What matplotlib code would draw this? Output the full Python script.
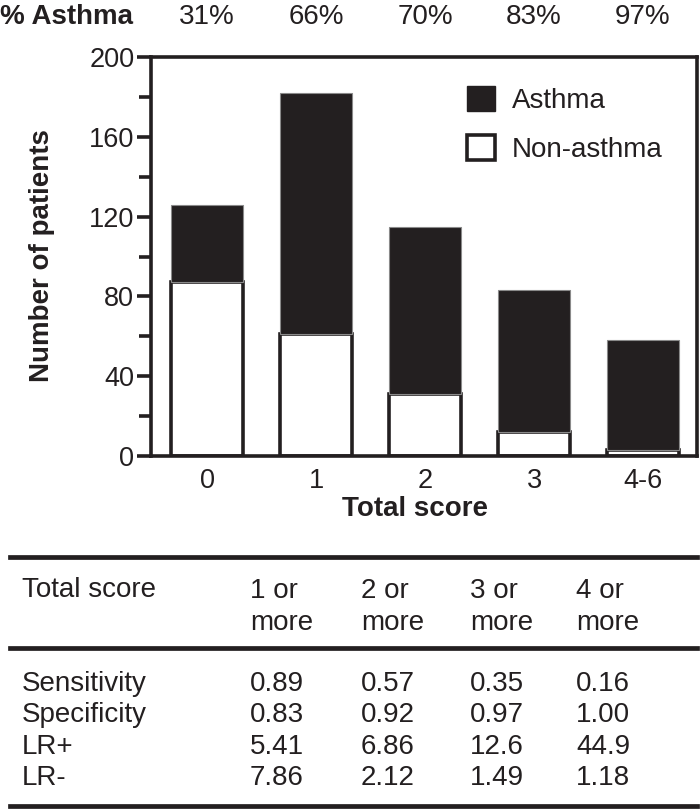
import matplotlib
matplotlib.use('Agg')
import matplotlib.pyplot as plt
import matplotlib.transforms as mtransforms
from matplotlib.patches import Patch
from matplotlib.lines import Line2D

plt.rcParams['font.family'] = ['Liberation Sans', 'DejaVu Sans']

# данные
scores = ['0', '1', '2', '3', '4-6']
non_asthma = [87, 61, 31, 12, 3]
asthma = [39, 121, 84, 71, 55]
pct_asthma = ['31%', '66%', '70%', '83%', '97%']

tbl_header = ['1 or\nmore', '2 or\nmore', '3 or\nmore', '4 or\nmore']
tbl_rows = ['Sensitivity', 'Specificity', 'LR+', 'LR-']
tbl_values = [
    ['0.89', '0.57', '0.35', '0.16'],
    ['0.83', '0.92', '0.97', '1.00'],
    ['5.41', '6.86', '12.6', '44.9'],
    ['7.86', '2.12', '1.49', '1.18'],
]

DARK = '#231f20'
W, H = 700, 811


def fx(x):
    return x / W


def fy(y):
    return 1 - y / H


fig = plt.figure(figsize=(7, 8.11), dpi=100)
ax = fig.add_axes([fx(151), fy(456), fx(697) - fx(151), fy(57) - fy(456)])

pos = list(range(len(scores)))
ax.bar(pos, non_asthma, width=0.66, color='white', edgecolor=DARK, linewidth=2.6, zorder=2)
ax.bar(pos, asthma, width=0.66, bottom=non_asthma, color=DARK, edgecolor='#8a8a8a',
       linewidth=0.8, zorder=2)

ax.set_xlim(-0.514, 4.495)
ax.set_ylim(0, 200)
ax.set_xticks(pos)
ax.set_xticklabels(scores, fontsize=19.5, color=DARK)
ax.tick_params(axis='x', length=0, pad=9)
ax.set_yticks(range(0, 201, 40))
ax.set_yticks(range(20, 200, 40), minor=True)
ax.tick_params(axis='y', which='major', length=10, width=2.6, color=DARK,
               labelsize=19.5, labelcolor=DARK, pad=2)
ax.tick_params(axis='y', which='minor', length=9, width=2.6, color=DARK)
for s in ax.spines.values():
    s.set_linewidth(2.6)
    s.set_color(DARK)

fig.text(fx(415), fy(509), 'Total score', fontsize=20, fontweight='bold',
         ha='center', va='center', color=DARK)
fig.text(fx(42), fy(256), 'Number of patients', fontsize=20, fontweight='bold',
         rotation=90, ha='center', va='center', color=DARK)

handles = [Patch(facecolor=DARK, edgecolor=DARK, linewidth=1),
           Patch(facecolor='white', edgecolor=DARK, linewidth=2.6)]
leg = ax.legend(handles, ['Asthma', 'Non-asthma'], loc='upper left',
                bbox_to_anchor=(fx(467), fy(86)), bbox_transform=fig.transFigure,
                frameon=False, fontsize=20, handlelength=1.0, handleheight=1.0,
                handletextpad=0.6, labelspacing=0.75, borderpad=0, borderaxespad=0)
for t in leg.get_texts():
    t.set_color(DARK)

# верхняя строка с процентами
trans = mtransforms.blended_transform_factory(ax.transData, fig.transFigure)
fig.text(0.0, fy(17), '% Asthma', fontsize=20, fontweight='bold',
         ha='left', va='center', color=DARK)
for p, t in zip(pos, pct_asthma):
    ax.text(p, fy(17), t, transform=trans, fontsize=20, ha='center', va='center',
            color=DARK)

# таблица
for yl in [557, 648, 806]:
    fig.add_artist(Line2D([fx(10), fx(697)], [fy(yl), fy(yl)], transform=fig.transFigure,
                          color=DARK, linewidth=3.4))

col_x = [250, 361, 470, 576]
fig.text(fx(22), fy(590), 'Total score', fontsize=20, ha='left', va='center', color=DARK)
for cx, h in zip(col_x, tbl_header):
    fig.text(fx(cx), fy(607), h, fontsize=20, ha='left', va='center', color=DARK,
             linespacing=1.3)

row_y = [684, 715, 747, 778]
for ry, name, vals in zip(row_y, tbl_rows, tbl_values):
    fig.text(fx(22), fy(ry), name, fontsize=20, ha='left', va='center', color=DARK)
    for cx, v in zip(col_x, vals):
        fig.text(fx(cx), fy(ry), v, fontsize=20, ha='left', va='center', color=DARK)

fig.savefig('out.png', dpi=100)
